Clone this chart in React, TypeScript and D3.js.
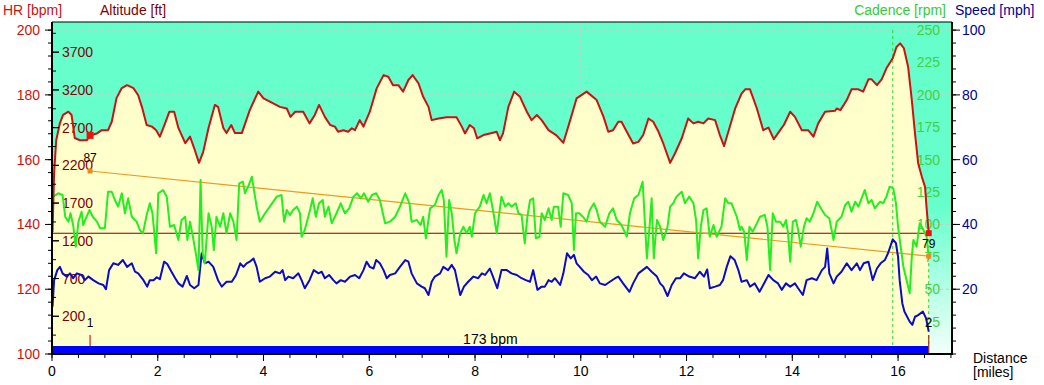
import React from 'react';
import * as d3 from 'd3';

type P = [number, number];

const hrData: P[] = [[0.01,137.7],[0.04,155.9],[0.08,166.0],[0.15,171.3],[0.21,173.8],[0.31,174.8],[0.37,173.8],[0.43,166.7],[0.53,166.0],[0.66,166.0],[0.72,167.5],[0.85,168.1],[0.94,169.1],[1.06,169.1],[1.13,171.7],[1.22,179.0],[1.32,182.1],[1.42,183.0],[1.54,182.1],[1.63,179.9],[1.70,176.3],[1.79,170.7],[1.89,170.2],[1.97,169.1],[2.04,167.1],[2.14,171.3],[2.22,174.8],[2.31,174.8],[2.39,169.8],[2.52,165.1],[2.61,167.1],[2.70,163.0],[2.78,159.0],[2.86,162.4],[2.96,169.8],[3.08,176.9],[3.14,176.3],[3.24,169.8],[3.30,168.2],[3.39,170.7],[3.46,168.2],[3.59,168.2],[3.74,175.3],[3.90,181.0],[4.00,178.9],[4.12,177.9],[4.31,176.3],[4.44,175.8],[4.51,173.2],[4.60,174.8],[4.75,174.8],[4.87,171.2],[4.97,173.8],[5.05,176.9],[5.16,173.2],[5.26,170.7],[5.35,170.2],[5.41,168.6],[5.51,169.1],[5.60,168.6],[5.67,169.7],[5.73,169.1],[5.82,172.2],[5.89,170.2],[6.01,174.8],[6.14,182.0],[6.27,186.1],[6.36,185.6],[6.45,183.0],[6.55,183.0],[6.64,181.0],[6.74,184.6],[6.82,186.1],[6.93,183.6],[7.02,179.4],[7.12,176.3],[7.18,172.2],[7.31,172.7],[7.46,173.1],[7.65,173.1],[7.75,170.2],[7.81,168.1],[7.90,170.7],[7.98,169.7],[8.04,166.6],[8.16,167.6],[8.28,168.1],[8.41,168.6],[8.47,166.0],[8.53,168.1],[8.63,176.3],[8.74,181.0],[8.85,179.4],[8.98,174.8],[9.07,172.2],[9.17,173.8],[9.26,172.2],[9.39,169.1],[9.54,167.5],[9.67,165.2],[9.80,172.2],[9.92,178.9],[10.11,181.0],[10.30,178.4],[10.43,173.2],[10.52,168.6],[10.61,169.1],[10.71,171.7],[10.77,171.7],[10.87,168.6],[10.99,165.0],[11.09,165.5],[11.18,167.6],[11.28,172.7],[11.37,171.7],[11.47,168.6],[11.56,165.0],[11.69,159.0],[11.78,161.9],[11.91,166.6],[12.03,172.7],[12.13,171.2],[12.22,171.7],[12.32,171.2],[12.41,172.7],[12.54,172.2],[12.63,167.6],[12.71,164.2],[12.79,168.6],[12.92,175.8],[13.04,180.4],[13.11,181.7],[13.20,181.7],[13.33,175.8],[13.45,169.1],[13.55,169.9],[13.65,166.3],[13.77,169.1],[13.84,170.7],[13.96,174.8],[14.05,173.2],[14.18,169.1],[14.30,169.1],[14.40,167.1],[14.49,171.2],[14.62,174.8],[14.81,175.1],[14.84,175.8],[14.91,175.3],[15.03,178.4],[15.12,181.7],[15.25,181.7],[15.34,181.0],[15.44,184.8],[15.50,184.8],[15.60,183.0],[15.69,184.8],[15.78,188.2],[15.90,191.3],[15.97,194.8],[16.04,195.9],[16.11,194.4],[16.19,188.7],[16.26,178.4],[16.32,168.1],[16.38,158.9],[16.45,154.7],[16.51,151.6],[16.54,145.0],[16.58,137.3]];

const cadenceData: P[] = [[0.01,116.3],[0.02,121.4],[0.12,124.0],[0.20,122.7],[0.25,105.9],[0.31,102.1],[0.35,108.6],[0.40,99.5],[0.45,82.8],[0.50,102.1],[0.56,109.8],[0.59,99.5],[0.64,104.7],[0.71,111.1],[0.77,105.9],[0.85,102.1],[0.91,97.0],[1.00,97.0],[1.06,125.2],[1.13,125.2],[1.19,118.8],[1.25,113.7],[1.32,124.0],[1.38,108.6],[1.44,120.1],[1.51,105.9],[1.60,102.1],[1.66,95.7],[1.72,93.1],[1.79,107.3],[1.85,116.3],[1.90,108.6],[1.97,77.7],[2.01,124.0],[2.10,126.5],[2.17,121.4],[2.23,98.2],[2.31,99.5],[2.39,88.0],[2.45,103.4],[2.52,105.9],[2.56,88.0],[2.61,102.1],[2.67,89.3],[2.72,77.7],[2.77,64.8],[2.81,134.3],[2.85,77.7],[2.89,70.0],[2.96,108.6],[3.02,98.2],[3.06,80.2],[3.11,105.9],[3.18,98.2],[3.24,108.6],[3.30,93.1],[3.37,108.6],[3.43,102.1],[3.49,88.0],[3.54,131.7],[3.61,132.9],[3.65,124.0],[3.71,129.1],[3.78,136.8],[3.82,126.5],[3.87,113.7],[3.93,102.1],[4.03,108.6],[4.12,113.7],[4.25,121.4],[4.34,122.7],[4.39,102.1],[4.44,111.1],[4.50,107.3],[4.56,111.1],[4.63,113.7],[4.69,108.6],[4.72,90.5],[4.78,95.7],[4.88,111.1],[4.93,120.1],[4.99,105.9],[5.05,116.3],[5.12,118.8],[5.16,105.9],[5.23,113.7],[5.29,100.8],[5.38,108.6],[5.46,116.3],[5.54,108.6],[5.62,112.4],[5.70,121.4],[5.77,124.0],[5.84,120.1],[5.90,124.0],[5.98,117.5],[6.05,122.7],[6.13,124.0],[6.20,118.8],[6.30,100.8],[6.39,102.1],[6.49,105.9],[6.58,113.7],[6.68,124.0],[6.76,116.3],[6.80,102.1],[6.90,103.4],[6.97,99.5],[7.02,105.9],[7.07,89.3],[7.15,112.4],[7.24,115.0],[7.31,122.7],[7.37,126.5],[7.41,118.8],[7.46,75.1],[7.51,118.8],[7.56,108.6],[7.61,88.0],[7.65,77.7],[7.72,93.1],[7.78,98.2],[7.84,93.1],[7.90,98.2],[7.94,90.5],[8.00,108.6],[8.09,113.7],[8.16,122.7],[8.22,116.3],[8.28,124.0],[8.35,108.6],[8.41,93.1],[8.50,121.4],[8.57,113.7],[8.63,116.3],[8.69,113.7],[8.77,116.3],[8.82,108.6],[8.88,107.3],[8.94,85.4],[8.99,105.9],[9.04,118.8],[9.10,120.1],[9.15,89.3],[9.22,90.5],[9.26,108.6],[9.32,103.4],[9.39,112.4],[9.45,103.4],[9.49,113.7],[9.57,113.7],[9.62,98.2],[9.67,124.0],[9.76,122.7],[9.83,116.3],[9.87,80.2],[9.91,108.6],[9.97,108.6],[10.04,105.9],[10.11,102.1],[10.17,111.1],[10.25,116.3],[10.30,111.1],[10.36,102.1],[10.46,98.2],[10.54,108.6],[10.61,112.4],[10.68,103.4],[10.77,99.5],[10.87,90.5],[10.93,108.6],[11.01,120.1],[11.09,122.7],[11.17,132.9],[11.21,103.4],[11.25,73.8],[11.30,98.2],[11.34,120.1],[11.38,73.8],[11.44,103.4],[11.50,98.2],[11.56,88.0],[11.64,98.2],[11.69,113.7],[11.75,116.3],[11.81,121.4],[11.91,125.2],[11.97,116.3],[12.05,121.4],[12.13,116.3],[12.18,103.4],[12.22,73.8],[12.27,98.2],[12.32,111.1],[12.38,112.4],[12.44,90.5],[12.51,99.5],[12.57,90.5],[12.66,98.2],[12.73,120.1],[12.79,116.3],[12.85,116.3],[12.95,105.9],[13.01,95.7],[13.04,98.2],[13.09,94.4],[13.14,72.5],[13.19,98.2],[13.25,94.4],[13.33,100.8],[13.39,105.9],[13.48,107.3],[13.53,98.2],[13.58,64.8],[13.63,108.6],[13.69,102.1],[13.77,102.1],[13.83,98.2],[13.88,103.4],[13.92,93.1],[13.96,71.2],[14.01,102.1],[14.07,103.4],[14.11,95.7],[14.16,82.8],[14.22,98.2],[14.27,104.7],[14.33,102.1],[14.40,108.6],[14.47,117.5],[14.56,111.1],[14.62,107.3],[14.70,104.7],[14.78,88.0],[14.84,102.1],[14.93,105.9],[15.00,115.0],[15.06,117.5],[15.12,109.8],[15.19,117.5],[15.25,113.7],[15.31,120.1],[15.37,126.5],[15.44,116.3],[15.50,118.8],[15.56,112.4],[15.66,117.5],[15.72,116.3],[15.78,121.4],[15.84,129.1],[15.91,127.8],[15.96,116.3],[16.00,98.2],[16.05,82.8],[16.10,67.4],[16.16,57.1],[16.22,46.8],[16.26,75.1],[16.29,88.0],[16.35,82.8],[16.41,100.8],[16.48,95.7],[16.54,90.5],[16.57,77.7]];

const speedData: P[] = [[0.01,14.6],[0.04,22.8],[0.10,25.9],[0.15,26.9],[0.20,24.9],[0.28,23.9],[0.34,24.9],[0.40,23.4],[0.47,24.9],[0.56,24.4],[0.62,22.8],[0.69,23.9],[0.78,22.8],[0.88,21.8],[0.97,21.3],[1.02,20.0],[1.08,25.9],[1.16,28.0],[1.25,27.5],[1.34,29.0],[1.42,26.9],[1.51,28.0],[1.57,25.4],[1.63,24.9],[1.73,22.8],[1.80,20.8],[1.85,22.8],[1.92,22.8],[1.98,23.7],[2.04,23.1],[2.12,28.5],[2.18,27.8],[2.26,25.4],[2.33,23.4],[2.39,21.8],[2.47,20.8],[2.55,24.1],[2.61,21.3],[2.69,20.3],[2.77,21.3],[2.83,31.1],[2.89,28.0],[2.96,28.5],[3.05,26.9],[3.14,22.8],[3.21,20.8],[3.30,22.3],[3.40,22.3],[3.48,24.4],[3.56,28.0],[3.62,26.9],[3.68,28.0],[3.74,28.5],[3.81,29.5],[3.87,26.9],[3.93,22.3],[4.03,23.4],[4.12,23.9],[4.22,25.4],[4.31,24.9],[4.36,25.9],[4.41,22.8],[4.47,23.9],[4.56,23.4],[4.66,24.9],[4.72,22.8],[4.78,20.3],[4.87,22.8],[4.95,25.9],[5.04,24.9],[5.10,25.4],[5.16,23.4],[5.24,24.4],[5.32,22.8],[5.38,21.8],[5.46,22.8],[5.54,22.3],[5.64,23.9],[5.73,24.4],[5.81,23.4],[5.89,25.9],[5.95,28.5],[6.01,26.9],[6.08,26.4],[6.13,29.0],[6.20,28.0],[6.27,25.9],[6.33,23.4],[6.39,24.4],[6.49,24.9],[6.58,26.9],[6.68,29.0],[6.74,28.5],[6.80,24.9],[6.90,21.8],[6.99,20.8],[7.05,20.3],[7.12,18.2],[7.18,22.3],[7.24,23.9],[7.34,24.9],[7.40,26.9],[7.49,25.9],[7.56,27.5],[7.62,25.9],[7.66,22.8],[7.72,18.2],[7.79,20.8],[7.87,22.3],[7.97,23.9],[8.06,23.4],[8.13,24.9],[8.19,24.4],[8.28,26.4],[8.35,23.4],[8.42,20.3],[8.50,25.9],[8.60,25.9],[8.69,24.9],[8.79,24.4],[8.88,23.4],[8.96,22.8],[9.04,22.3],[9.10,25.9],[9.18,19.8],[9.26,20.8],[9.32,20.8],[9.39,22.8],[9.45,22.3],[9.51,23.4],[9.61,21.3],[9.67,24.9],[9.74,31.1],[9.81,29.5],[9.87,30.6],[9.92,28.0],[9.98,26.9],[10.06,25.4],[10.14,24.4],[10.21,22.8],[10.29,23.9],[10.36,21.8],[10.46,21.3],[10.55,22.3],[10.65,23.4],[10.71,23.9],[10.80,21.8],[10.92,19.2],[10.99,21.8],[11.09,24.9],[11.17,25.9],[11.25,26.9],[11.34,25.4],[11.44,23.9],[11.50,21.8],[11.56,20.8],[11.64,17.9],[11.72,21.3],[11.80,23.4],[11.88,23.4],[11.95,24.9],[12.05,23.9],[12.16,23.4],[12.25,25.4],[12.33,23.9],[12.39,26.1],[12.44,20.3],[12.54,20.8],[12.63,21.3],[12.69,22.8],[12.76,26.9],[12.83,30.2],[12.91,29.0],[12.98,25.9],[13.04,22.3],[13.14,22.8],[13.20,20.8],[13.29,21.8],[13.38,19.2],[13.45,21.3],[13.55,24.4],[13.64,22.8],[13.73,21.8],[13.80,19.8],[13.88,21.8],[13.96,20.8],[14.05,21.8],[14.11,20.3],[14.20,18.2],[14.27,22.8],[14.37,23.4],[14.46,22.8],[14.56,25.9],[14.62,26.9],[14.66,32.6],[14.70,24.9],[14.78,21.8],[14.84,23.9],[14.93,25.4],[15.03,28.0],[15.12,25.9],[15.22,28.0],[15.28,25.9],[15.35,28.0],[15.44,28.5],[15.52,22.8],[15.60,26.4],[15.67,28.0],[15.75,29.0],[15.81,31.1],[15.90,35.4],[15.96,34.2],[16.00,30.0],[16.03,22.8],[16.08,15.7],[16.12,13.1],[16.22,10.0],[16.27,9.0],[16.32,11.5],[16.38,12.0],[16.47,13.1],[16.53,11.0],[16.58,6.9]];

const altitudeData: P[] = [[0, 1300], [16.58, 1300]];
const trendData: P[] = [[0.72, 156.5], [16.58, 130.2]];
const trendLabels = ['87', '79'];
const lapDist = [0.72, 16.58];
const lapLabels = ['1', '2'];
const lapLineDist = [15.9, 16.58];
const avgHrLabel = '173 bpm';

const hrTicks = [100, 120, 140, 160, 180, 200];
const altTicks = [200, 700, 1200, 1700, 2200, 2700, 3200, 3700];
const cadTicks = [25, 50, 75, 100, 125, 150, 175, 200, 225, 250];
const spdTicks = [20, 40, 60, 80, 100];
const distTicks = [0, 2, 4, 6, 8, 10, 12, 14, 16];

const L = 52, R = 952, T = 22, B = 354;
const FONT = '"Liberation Sans", Arial, sans-serif';

export default function App() {
  const x = d3.scaleLinear().domain([0, 17.02]).range([L, R]);
  const yHr = d3.scaleLinear().domain([100, 202.5]).range([B, T]);
  const yAlt = d3.scaleLinear().domain([-300, 4100]).range([B, T]);
  const yCad = d3.scaleLinear().domain([0, 256.17]).range([B, T]);
  const ySpd = d3.scaleLinear().domain([0, 102.5]).range([B, T]);

  const hrArea = d3.area<P>().x(d => x(d[0])).y0(B).y1(d => yHr(d[1]))(hrData) || '';
  const hrLine = d3.line<P>().x(d => x(d[0])).y(d => yHr(d[1]))(hrData) || '';
  const cadLine = d3.line<P>().x(d => x(d[0])).y(d => yCad(d[1]))(cadenceData) || '';
  const spdLine = d3.line<P>().x(d => x(d[0])).y(d => ySpd(d[1]))(speedData) || '';
  const altLine = d3.line<P>().x(d => x(d[0])).y(d => yAlt(d[1]))(altitudeData) || '';
  const trLine = d3.line<P>().x(d => x(d[0])).y(d => yHr(d[1]))(trendData) || '';

  const hrMinor = d3.range(100, 201, 4);
  const spdMinor = d3.range(0, 101, 4);
  const altMinor = d3.range(-50, 4001, 250);
  const distMinor = d3.range(0, 17.01, 0.5);

  const hrEnd = hrData[hrData.length - 1];
  const hrAtLap1 = 167.5;

  return (
    <svg width={1044} height={385} style={{ position: 'absolute', left: 0, top: 0, background: '#fff' }} fontFamily={FONT}>
      <defs>
        <linearGradient id="bg" gradientUnits="userSpaceOnUse" x1={0} y1={T} x2={0} y2={B}>
          <stop offset="0" stopColor="#66ffcc" />
          <stop offset="0.55" stopColor="#66ffcc" />
          <stop offset="1" stopColor="#f2fffa" />
        </linearGradient>
      </defs>
      <rect x={L} y={T} width={R - L} height={B - T} fill="url(#bg)" />
      {/* grid */}
      {hrTicks.filter(v => v > 100).map(v => (
        <line key={'g' + v} x1={L} x2={R} y1={yHr(v)} y2={yHr(v)} stroke="#bfcfc8" strokeDasharray="3,3" />
      ))}
      <line x1={x(10)} x2={x(10)} y1={T} y2={B} stroke="#bfcfc8" strokeDasharray="3,3" />
      {/* HR area */}
      <path d={hrArea} fill="#ffffcc" />
      {/* altitude labels and cadence labels */}
      {altTicks.map(v => (
        <text key={'a' + v} x={62} y={yAlt(v) + 5} fontSize={14} fill="#800000">{v}</text>
      ))}
      {cadTicks.map(v => (
        <text key={'c' + v} x={940} y={yCad(v) + 5} fontSize={14} fill="#44d044" textAnchor="end">{v}</text>
      ))}
      {/* lap lines */}
      <line x1={x(lapLineDist[0])} x2={x(lapLineDist[0])} y1={yHr(200)} y2={B} stroke="#33cc33" strokeDasharray="3,3" />
      <line x1={x(lapLineDist[1])} x2={x(lapLineDist[1])} y1={yHr(hrEnd[1]) + 6} y2={B - 8} stroke="#33cc33" strokeDasharray="3,3" />
      {/* altitude & trend */}
      <path d={altLine} fill="none" stroke="#800000" strokeWidth={1.2} />
      <path d={trLine} fill="none" stroke="#ee9922" strokeWidth={1.2} />
      <path d={spdLine} fill="none" stroke="#0a0ac8" strokeWidth={2} strokeLinejoin="round" />
      <path d={cadLine} fill="none" stroke="#22ee22" strokeWidth={2} strokeLinejoin="round" />
      <path d={hrLine} fill="none" stroke="#cc1111" strokeWidth={2} strokeLinejoin="round" />
      {/* markers */}
      <rect x={x(lapDist[0]) - 3.5} y={yHr(hrAtLap1) - 3.5} width={7} height={7} fill="#ee1111" />
      <rect x={x(hrEnd[0]) - 3} y={yHr(hrEnd[1]) - 3} width={6} height={6} fill="#ee1111" />
      {trendData.map((d, i) => (
        <rect key={'tm' + i} x={x(d[0]) - 2.5} y={yHr(d[1]) - 2.5} width={5} height={5} fill="#ee8822" />
      ))}
      <text x={x(trendData[0][0])} y={yHr(trendData[0][1]) - 9} fontSize={12} textAnchor="middle" fill="#000">{trendLabels[0]}</text>
      <text x={x(hrEnd[0])} y={yHr(hrEnd[1]) + 15} fontSize={12} textAnchor="middle" fill="#000">{trendLabels[1]}</text>
      {/* avg HR bar */}
      <rect x={L} y={B - 8} width={x(hrEnd[0]) - L} height={8} fill="#0000ff" />
      <text x={(L + x(hrEnd[0])) / 2} y={B - 10} fontSize={14} textAnchor="middle" fill="#000">{avgHrLabel}</text>
      {/* lap markers */}
      {lapDist.map((d, i) => (
        <g key={'lap' + i}>
          <line x1={x(d)} x2={x(d)} y1={B - 19} y2={i === 0 ? B - 8 : B} stroke={i === 0 ? '#ee1111' : '#993311'} strokeWidth={1.2} />
          <text x={x(d)} y={B - 27} fontSize={12} textAnchor="middle" fill="#000">{lapLabels[i]}</text>
        </g>
      ))}
      {/* frame */}
      <line x1={L} x2={R} y1={T} y2={T} stroke="#000" strokeWidth={1} />
      <line x1={L} x2={L} y1={T} y2={B + 1} stroke="#000" strokeWidth={2} />
      <line x1={R} x2={R} y1={T} y2={B + 1} stroke="#000" strokeWidth={2} />
      <line x1={L} x2={R} y1={B} y2={B} stroke="#000" strokeWidth={2} />
      {/* HR axis */}
      {hrMinor.map(v => (
        <line key={'hm' + v} x1={L - 4} x2={L} y1={yHr(v)} y2={yHr(v)} stroke="#000" />
      ))}
      {hrTicks.map(v => (
        <g key={'h' + v}>
          <line x1={L - 7} x2={L} y1={yHr(v)} y2={yHr(v)} stroke="#000" />
          <text x={40} y={yHr(v) + 5} fontSize={14} textAnchor="end" fill="#cc1111">{v}</text>
        </g>
      ))}
      {/* Altitude ticks (inside) */}
      {altMinor.map(v => (
        <line key={'am' + v} x1={L} x2={L + (altTicks.includes(v) ? 7 : 4)} y1={yAlt(v)} y2={yAlt(v)} stroke="#000" />
      ))}
      {altTicks.map(v => (
        <line key={'at' + v} x1={L} x2={L + 7} y1={yAlt(v)} y2={yAlt(v)} stroke="#000" />
      ))}
      {/* speed axis */}
      {spdMinor.map(v => (
        <line key={'sm' + v} x1={R} x2={R + 4} y1={ySpd(v)} y2={ySpd(v)} stroke="#000" />
      ))}
      {spdTicks.map(v => (
        <g key={'s' + v}>
          <line x1={R} x2={R + 8} y1={ySpd(v)} y2={ySpd(v)} stroke="#000" />
          <text x={962} y={ySpd(v) + 5} fontSize={14} fill="#000099">{v}</text>
        </g>
      ))}
      {/* distance axis */}
      {distMinor.map(v => (
        <line key={'dm' + v} x1={x(v)} x2={x(v)} y1={B} y2={B + 4} stroke="#000" />
      ))}
      {distTicks.map(v => (
        <g key={'d' + v}>
          <line x1={x(v)} x2={x(v)} y1={B} y2={B + 7} stroke="#000" />
          <text x={x(v)} y={376} fontSize={14} textAnchor="middle" fill="#000">{v}</text>
        </g>
      ))}
      {/* titles */}
      <text x={3} y={15} fontSize={14} fill="#cc1111">HR [bpm]</text>
      <text x={100} y={15} fontSize={14} fill="#800000">Altitude [ft]</text>
      <text x={946} y={15} fontSize={14} fill="#33cc33" textAnchor="end">Cadence [rpm]</text>
      <text x={955} y={15} fontSize={14} fill="#000099">Speed [mph]</text>
      <text x={973} y={363} fontSize={14} fill="#000">Distance</text>
      <text x={973} y={377} fontSize={14} fill="#000">[miles]</text>
    </svg>
  );
}
